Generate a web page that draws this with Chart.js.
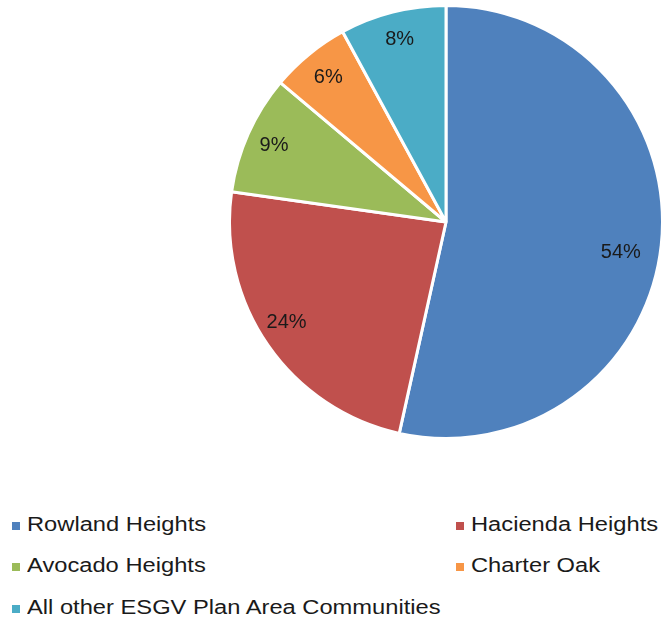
<!DOCTYPE html>
<html>
<head>
<meta charset="utf-8">
<script src="https://cdn.jsdelivr.net/npm/chart.js@4"></script>
<style>
  body { margin: 0; background: #fff; width: 661px; height: 622px; position: relative; overflow: hidden; font-family: "Liberation Sans", Arial, sans-serif; }
  #pieWrap { position: absolute; left: 228px; top: 4px; width: 436px; height: 436px; }
  #legend { position: absolute; left: 0; top: 0; width: 661px; }
  .item { position: absolute; font-size: 20px; color: #1a1a1a; white-space: nowrap; line-height: 24px; }
  .item span.box { position: absolute; left: 0; top: 10px; width: 8px; height: 8px; }
  .item span.txt { position: absolute; left: 15px; top: 0; transform: scaleX(1.185); transform-origin: 0 0; }
</style>
</head>
<body>
<div id="pieWrap"><canvas id="pie"></canvas></div>
<div id="legend"></div>
<script>
const communities = ['Rowland Heights', 'Hacienda Heights', 'Avocado Heights', 'Charter Oak', 'All other ESGV Plan Area Communities'];
const shares = [54, 24, 9, 6, 8];
const sliceColors = ['#4F81BD', '#C0504D', '#9BBB59', '#F79646', '#4BACC6'];

// label placement inside each slice: fraction of radius and a small angle nudge (radians)
const labelRadius = [0.82, 0.87, 0.87, 0.86, 0.87];
const labelNudge = [0.066, 0.045, 0, 0, 0];

// percent text inside each slice
const sliceLabels = {
    id: 'sliceLabels',
    afterDatasetsDraw(chart) {
        const ctx = chart.ctx;
        const meta = chart.getDatasetMeta(0);
        ctx.save();
        ctx.font = '20px "Liberation Sans", Arial, sans-serif';
        ctx.fillStyle = '#1a1a1a';
        ctx.textAlign = 'center';
        ctx.textBaseline = 'middle';
        meta.data.forEach((arc, i) => {
            const p = arc.getProps(['x', 'y', 'startAngle', 'endAngle', 'outerRadius'], true);
            const mid = (p.startAngle + p.endAngle) / 2 + labelNudge[i];
            const r = p.outerRadius * labelRadius[i];
            ctx.fillText(shares[i] + '%', p.x + Math.cos(mid) * r, p.y + Math.sin(mid) * r);
        });
        ctx.restore();
    }
};

new Chart(document.getElementById('pie').getContext('2d'), {
    type: 'pie',
    data: {
        labels: communities,
        datasets: [{
            data: shares,
            backgroundColor: sliceColors,
            borderColor: '#ffffff',
            borderWidth: 3
        }]
    },
    options: {
        responsive: true,
        maintainAspectRatio: false,
        animation: false,
        layout: { padding: 0 },
        plugins: {
            legend: { display: false },
            tooltip: { enabled: false }
        }
    },
    plugins: [sliceLabels]
});

// two-column legend under the pie
const legendSpots = [[12, 512], [456, 512], [12, 553], [456, 553], [12, 595]];
const legend = document.getElementById('legend');
communities.forEach((name, i) => {
    const el = document.createElement('div');
    el.className = 'item';
    el.style.left = legendSpots[i][0] + 'px';
    el.style.top = legendSpots[i][1] + 'px';
    el.innerHTML = '<span class="box" style="background:' + sliceColors[i] + '"></span><span class="txt">' + name + '</span>';
    legend.appendChild(el);
});
</script>
</body>
</html>
